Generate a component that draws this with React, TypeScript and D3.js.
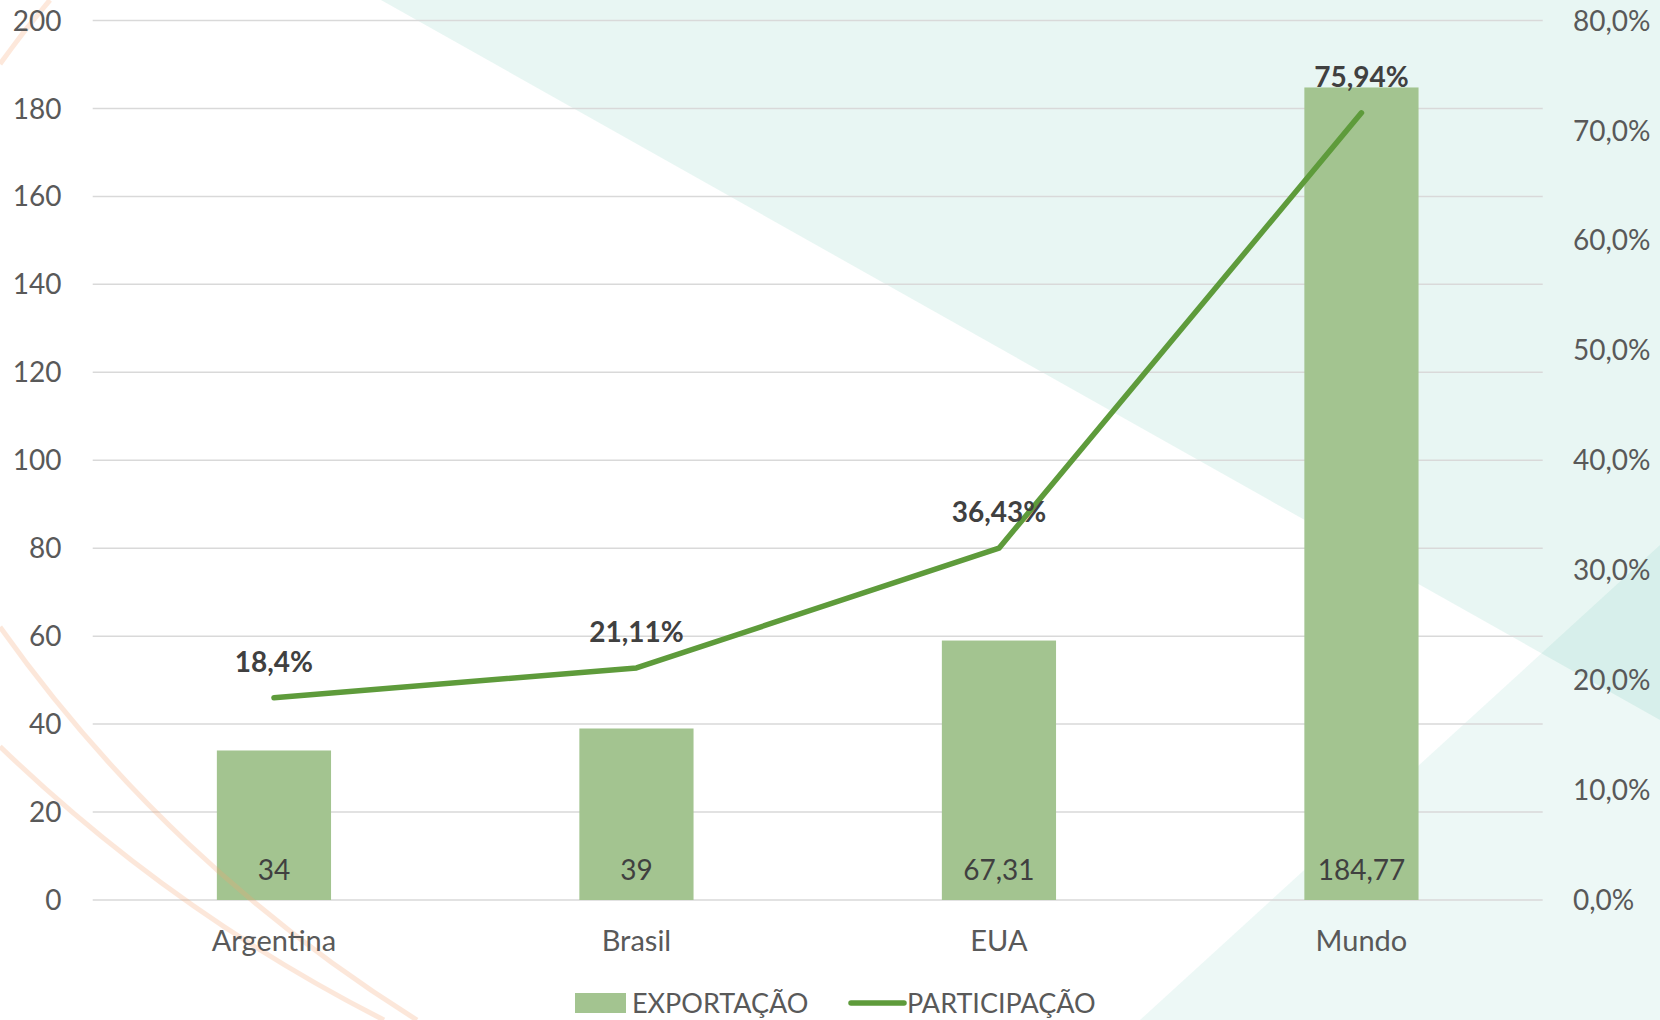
import React, { useEffect } from 'react';
import * as d3 from 'd3';

const categories = ['Argentina', 'Brasil', 'EUA', 'Mundo'];
// bar heights as drawn, and the labels printed on them
const exportacao = [34, 39, 59, 184.77];
const exportacaoLabels = ['34', '39', '67,31', '184,77'];
// line points as drawn (percent), and their labels
const participacao = [18.4, 21.11, 32.0, 71.6];
const participacaoLabels = ['18,4%', '21,11%', '36,43%', '75,94%'];
const leftTicks = [0, 20, 40, 60, 80, 100, 120, 140, 160, 180, 200];
const rightTicks = [0, 10, 20, 30, 40, 50, 60, 70, 80];
const rightTickLabels = ['0,0%', '10,0%', '20,0%', '30,0%', '40,0%', '50,0%', '60,0%', '70,0%', '80,0%'];

const W = 1660;
const H = 1020;
const FONT = 'Lato, "Open Sans", sans-serif';
const BAR = '#a3c490';
const LINE = '#5e9b3b';

function App() {
    useEffect(() => {
        document.body.style.margin = '0';
    }, []);

    const left = 92.7, right = 1542.7, top = 20.5, bottom = 900;

    const x = d3.scaleBand().domain(categories).range([left, right]).padding(0);
    const yL = d3.scaleLinear().domain([0, 200]).range([bottom, top]);
    const yR = d3.scaleLinear().domain([0, 80]).range([bottom, top]);
    const barW = x.bandwidth() * 0.315;
    const cx = (c) => x(c) + x.bandwidth() / 2;

    const line = d3.line().x((d, i) => cx(categories[i])).y((d) => yR(d));

    // background decoration
    const tri1 = `M381,0 L${W},0 L${W},720 Z`;
    const tri2 = `M1140,${H} L${W},545 L${W},${H} Z`;
    const arcs = [
        'M0,627 A1454,1454 0 0 0 417,1020',
        'M0,746.5 A1593,1593 0 0 0 384,1020',
        'M0,64 A858,858 0 0 1 50,0',
    ];

    return (
        <svg width={W} height={H} style={{ display: 'block', background: '#fff' }}>
            <path d={tri1} fill="#1aa38a" opacity={0.1} />
            <path d={tri2} fill="#1aa38a" opacity={0.08} />

            <g>
                {leftTicks.map((t) => (
                    <line key={t} x1={left} x2={right} y1={yL(t)} y2={yL(t)} stroke="#d9d9d9" strokeWidth={1.5} />
                ))}
            </g>

            <g>
                {categories.map((c, i) => (
                    <rect key={c} x={cx(c) - barW / 2} y={yL(exportacao[i])} width={barW}
                        height={yL(0) - yL(exportacao[i])} fill={BAR} />
                ))}
            </g>

            <path d={line(participacao)} fill="none" stroke={LINE} strokeWidth={5.5}
                strokeLinecap="round" strokeLinejoin="round" />

            <g fill="none" stroke="#f7a470" strokeWidth={5} opacity={0.25}>
                {arcs.map((d, i) => <path key={i} d={d} />)}
            </g>

            <g fontFamily={FONT} fontSize={28} fill="#595959">
                {leftTicks.map((t) => (
                    <text key={t} x={61.5} y={yL(t)} textAnchor="end" dy="0.36em">{t}</text>
                ))}
                {rightTicks.map((t, i) => (
                    <text key={t} x={1573} y={yR(t)} dy="0.36em">{rightTickLabels[i]}</text>
                ))}
                {categories.map((c) => (
                    <text key={c} x={cx(c)} y={951} textAnchor="middle" fontSize={29}>{c}</text>
                ))}
            </g>

            <g fontFamily={FONT} fontSize={28} fill="#404040" textAnchor="middle">
                {categories.map((c, i) => (
                    <text key={c} x={cx(c)} y={870} dy="0.36em">{exportacaoLabels[i]}</text>
                ))}
                {categories.map((c, i) => (
                    <text key={c + 'p'} x={cx(c)} y={yR(participacao[i]) - 36} dy="0.36em"
                        fontWeight="bold">{participacaoLabels[i]}</text>
                ))}
            </g>

            <g fontFamily={FONT} fontSize={27} fill="#595959">
                <rect x={575} y={993} width={51} height={20} fill={BAR} />
                <text x={632} y={1013}>EXPORTAÇÃO</text>
                <line x1={851} x2={904} y1={1003} y2={1003} stroke={LINE} strokeWidth={5.5} strokeLinecap="round" />
                <text x={907} y={1013}>PARTICIPAÇÃO</text>
            </g>
        </svg>
    );
}

export default App;
